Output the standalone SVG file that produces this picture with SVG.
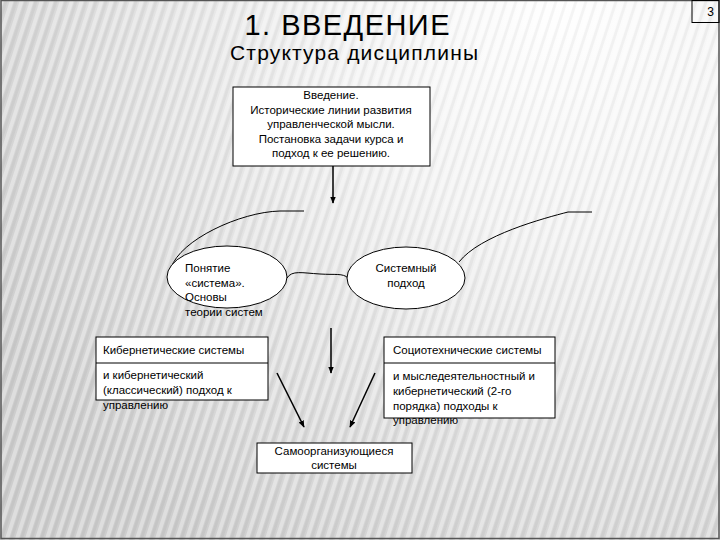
<svg xmlns="http://www.w3.org/2000/svg" width="720" height="540" viewBox="0 0 720 540">
<defs>
<radialGradient id="bg" cx="560" cy="0" r="650" gradientUnits="userSpaceOnUse">
<stop offset="0" stop-color="#ffffff"/>
<stop offset="0.35" stop-color="#f2f2f2"/>
<stop offset="1" stop-color="#cdcdcd"/>
</radialGradient>
<pattern id="stripes" width="10" height="40" patternUnits="userSpaceOnUse" patternTransform="skewX(-18)">
<rect x="0" y="0" width="4" height="40" fill="#ffffff" fill-opacity="0.35"/>
<rect x="5" y="0" width="3" height="40" fill="#000000" fill-opacity="0.04"/>
</pattern>
<marker id="ah" viewBox="0 0 10 10" refX="9" refY="5" markerWidth="7" markerHeight="7" orient="auto" markerUnits="userSpaceOnUse">
<path d="M0,1 L10,5 L0,9 Z" fill="#000"/>
</marker>
<style>
text{font-family:"Liberation Sans",Arial,sans-serif;fill:#000}
.t{font-size:11.5px}
.c{text-anchor:middle}
.box{fill:#fff;stroke:#000;stroke-width:1}
.ln{fill:none;stroke:#000;stroke-width:1}
.ar{fill:none;stroke:#000;stroke-width:1.5;marker-end:url(#ah)}
</style>
</defs>
<rect x="0" y="0" width="720" height="540" fill="url(#bg)"/>
<rect x="0" y="0" width="720" height="540" fill="url(#stripes)"/>
<rect x="1" y="0.5" width="718" height="538" fill="none" stroke="#555" stroke-width="1.5"/>

<g id="page-number">
<rect x="692" y="0.5" width="27" height="22" fill="none" stroke="#000" stroke-width="1"/>
<text x="714" y="16" font-size="12" text-anchor="end">3</text>
</g>

<g id="title">
<text x="347" y="35" font-size="29" class="c" textLength="205" lengthAdjust="spacing">1. ВВЕДЕНИЕ</text>
<text x="354" y="60" font-size="21" class="c" textLength="248" lengthAdjust="spacing">Структура дисциплины</text>
</g>

<g id="connectors">
<line x1="333" y1="166" x2="333" y2="203" class="ar"/>
<path d="M304,211 L280,211 C240,212 180,240 171,268" class="ln"/>
<path d="M459,262 C480,235 545,218 568,212 L592,212" class="ln"/>
<path d="M287,278 C292,270 302,273 320,274 C335,275 343,273 348,278" class="ln"/>
<line x1="331" y1="328" x2="331" y2="373" class="ar"/>
<line x1="277" y1="373" x2="304" y2="427" class="ar"/>
<line x1="375" y1="373" x2="350" y2="427" class="ar"/>
</g>

<g id="intro">
<rect x="233" y="87" width="197" height="79" class="box"/>
<text class="t c" x="331" y="99">Введение.</text>
<text class="t c" x="331" y="114">Исторические линии развития</text>
<text class="t c" x="331" y="128">управленческой мысли.</text>
<text class="t c" x="331" y="143">Постановка задачи курса и</text>
<text class="t c" x="331" y="157">подход к ее решению.</text>
</g>

<g id="system-concept">
<ellipse cx="227" cy="277" rx="60" ry="31" class="box"/>
<text class="t" x="185" y="272">Понятие</text>
<text class="t" x="185" y="287">«система».</text>
<text class="t" x="185" y="301">Основы</text>
<text class="t" x="185" y="316">теории систем</text>
</g>

<g id="system-approach">
<ellipse cx="406" cy="278" rx="59" ry="31" class="box"/>
<text class="t c" x="406" y="272">Системный</text>
<text class="t c" x="406" y="287">подход</text>
</g>

<g id="cybernetic">
<rect x="96" y="337" width="172" height="63" class="box"/>
<line x1="96" y1="363" x2="268" y2="363" class="ln"/>
<text class="t" x="103" y="354">Кибернетические системы</text>
<text class="t" x="103" y="379">и кибернетический</text>
<text class="t" x="103" y="394">(классический) подход к</text>
<text class="t" x="103" y="409">управлению</text>
</g>

<g id="sociotechnical">
<rect x="384" y="337" width="171" height="81" class="box"/>
<line x1="384" y1="363" x2="555" y2="363" class="ln"/>
<text class="t" x="393" y="354">Социотехнические системы</text>
<text class="t" x="393" y="380">и мыследеятельностный и</text>
<text class="t" x="393" y="395">кибернетический (2-го</text>
<text class="t" x="393" y="410">порядка) подходы к</text>
<text class="t" x="393" y="424">управлению</text>
</g>

<g id="self-organizing">
<rect x="257" y="443" width="155" height="30" class="box"/>
<text class="t c" x="334" y="455">Самоорганизующиеся</text>
<text class="t c" x="334" y="469">системы</text>
</g>
</svg>
